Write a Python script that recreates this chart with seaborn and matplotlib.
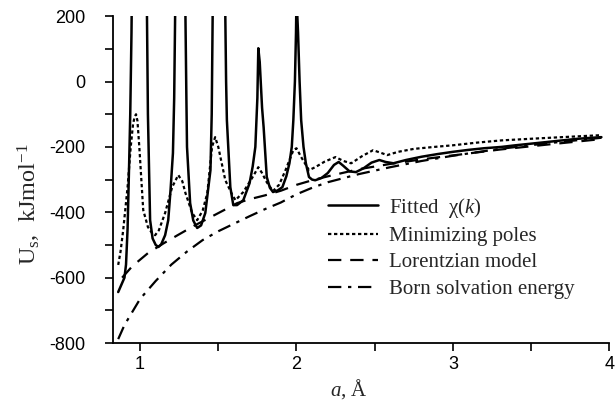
import numpy as np
import pandas as pd
import matplotlib
matplotlib.use('Agg')
import matplotlib.pyplot as plt
import seaborn as sns
from matplotlib.ticker import MultipleLocator

# Fitted chi(k) - solid line (values above 200 run off the top of the axes)
a_fit = [0.86, 0.88, 0.90, 0.91, 0.92, 0.93, 0.937, 0.945, 0.95, 1.04, 1.045, 1.05, 1.064, 1.08,
         1.10, 1.117, 1.135, 1.16, 1.18, 1.195, 1.21, 1.218, 1.224, 1.228, 1.285, 1.29, 1.296,
         1.30, 1.32, 1.34, 1.365, 1.39, 1.417, 1.435, 1.45, 1.458, 1.464, 1.468, 1.54, 1.545,
         1.55, 1.555, 1.577, 1.596, 1.62, 1.66, 1.70, 1.72, 1.737, 1.75, 1.756, 1.765, 1.78,
         1.79, 1.81, 1.83, 1.85, 1.88, 1.91, 1.935, 1.955, 1.97, 1.98, 1.99, 1.997, 2.0, 2.01,
         2.02, 2.03, 2.045, 2.06, 2.08, 2.10, 2.12, 2.16, 2.2, 2.24, 2.27, 2.3, 2.34, 2.38,
         2.43, 2.48, 2.53, 2.57, 2.62, 2.7, 2.8, 2.9, 3.0, 3.1, 3.2, 3.31, 3.4, 3.5, 3.6, 3.7,
         3.8, 3.95]
u_fit = [-644, -622, -600, -560, -450, -250, -100, 150, 400, 400, 150, -100, -424, -480,
         -500, -506, -498, -470, -424, -330, -219, -50, 200, 400, 400, 200, -50,
         -200, -372, -425, -448, -440, -402, -330, -271, -100, 200, 400, 400, 200,
         0, -118, -323, -378, -378, -363, -311, -260, -200, -50, 102, 60, -80,
         -140, -292, -325, -338, -333, -323, -290, -250, -200, -118, 0, 150, 260, 150,
         0, -118, -200, -250, -292, -300, -302, -295, -280, -255, -246, -258, -275, -277,
         -265, -248, -240, -246, -250, -240, -230, -222, -215, -209, -204, -200, -195, -190,
         -185, -180, -175, -170]

# Minimizing poles - dotted
a_min = [0.86, 0.875, 0.892, 0.92, 0.94, 0.955, 0.965, 0.974, 0.983, 0.995, 1.02, 1.05, 1.077,
         1.096, 1.12, 1.16, 1.205, 1.244, 1.27, 1.29, 1.333, 1.365, 1.40, 1.43, 1.46, 1.48,
         1.50, 1.545, 1.59, 1.61, 1.66, 1.72, 1.756, 1.78, 1.81, 1.85, 1.89, 1.93, 1.98, 2.0,
         2.03, 2.08, 2.12, 2.18, 2.25, 2.30, 2.35, 2.42, 2.49, 2.54, 2.58, 2.65, 2.75, 2.88,
         3.0, 3.15, 3.31, 3.5, 3.7, 3.95]
u_min = [-561, -520, -454, -323, -200, -130, -108, -100, -120, -200, -393, -445, -464,
         -470, -455, -402, -323, -286, -305, -341, -402, -424, -395, -341, -200, -170,
         -200, -302, -347, -363, -338, -292, -262, -280, -308, -335, -315, -271, -210, -204,
         -231, -271, -262, -245, -231, -243, -250, -228, -210, -218, -225, -215, -206, -200,
         -195, -187, -180, -175, -170, -164]

# Lorentzian model - dashed
a_lor = [0.885, 0.95, 1.05, 1.15, 1.24, 1.35, 1.45, 1.55, 1.62, 1.7, 1.8, 1.9, 2.0, 2.1, 2.2,
         2.4, 2.6, 2.8, 3.0, 3.3, 3.6, 3.95]
u_lor = [-600, -565, -525, -495, -470, -440, -415, -390, -372, -360, -348, -334, -316, -302,
         -290, -268, -252, -238, -226, -208, -193, -176]

# Born solvation energy - dash-dot
a_born = [0.86, 0.9, 0.95, 1.0, 1.1, 1.2, 1.3, 1.4, 1.5, 1.6, 1.7, 1.8, 1.9, 2.0, 2.1, 2.2,
          2.4, 2.6, 2.8, 3.0, 3.3, 3.6, 3.95]
u_born = [-788, -745, -705, -665, -610, -560, -520, -485, -458, -435, -412, -390, -370, -345,
          -325, -308, -283, -262, -243, -227, -206, -189, -172]

x_ticks = [1, 2, 3, 4]
y_ticks = [-800, -600, -400, -200, 0, 200]

sns.set_style('ticks')
plt.rcParams['font.family'] = ['Liberation Sans', 'DejaVu Sans']
plt.rcParams['axes.unicode_minus'] = False
plt.rcParams['mathtext.fontset'] = 'custom'
plt.rcParams['mathtext.rm'] = 'Liberation Serif'
plt.rcParams['mathtext.it'] = 'Liberation Serif:italic'

fig = plt.figure(figsize=(6.16, 4.05), dpi=100)
ax = fig.add_axes([0.183, 0.153, 0.806, 0.807])

sns.lineplot(x=a_fit, y=u_fit, ax=ax, color='black', lw=1.8, sort=False, estimator=None,
             label=r'Fitted  χ($k$)')
sns.lineplot(x=a_min, y=u_min, ax=ax, color='black', lw=1.6, sort=False, estimator=None,
             linestyle=(0, (1.5, 1.2)), label='Minimizing poles')
sns.lineplot(x=a_lor, y=u_lor, ax=ax, color='black', lw=1.6, sort=False, estimator=None,
             linestyle=(0, (6, 4)), label='Lorentzian model')
sns.lineplot(x=a_born, y=u_born, ax=ax, color='black', lw=1.6, sort=False, estimator=None,
             linestyle=(0, (6, 3, 1.5, 3)), label='Born solvation energy')

ax.set_xlim(0.825, 4.0)
ax.set_ylim(-800, 200)
ax.set_xticks(x_ticks)
ax.set_yticks(y_ticks)
ax.xaxis.set_minor_locator(MultipleLocator(0.5))
ax.yaxis.set_minor_locator(MultipleLocator(100))
ax.tick_params(which='both', direction='out', length=5.5, width=1.2, colors='black', labelsize=13)
ax.tick_params(axis='x', pad=4)
ax.tick_params(axis='y', pad=14)
for s in ['top', 'right']:
    ax.spines[s].set_visible(False)
for s in ['left', 'bottom']:
    ax.spines[s].set_linewidth(1.3)
    ax.spines[s].set_color('black')

ax.set_xlabel(r'$a$, Å', family='Liberation Serif', fontsize=15)
ax.xaxis.set_label_coords(0.476, -0.105)
ax.set_ylabel(r'U$_\mathregular{s}$,  kJmol$^\mathregular{-1}$', family='Liberation Serif',
              fontsize=17.5)
ax.yaxis.set_label_coords(-0.14, 0.425)

leg = ax.legend(loc='lower right', bbox_to_anchor=(0.93, 0.135), frameon=False,
                prop={'family': 'Liberation Serif', 'size': 15}, handlelength=2.4,
                handletextpad=0.5, labelspacing=0.33, borderaxespad=0, borderpad=0)

fig.savefig('out.png', dpi=100)
